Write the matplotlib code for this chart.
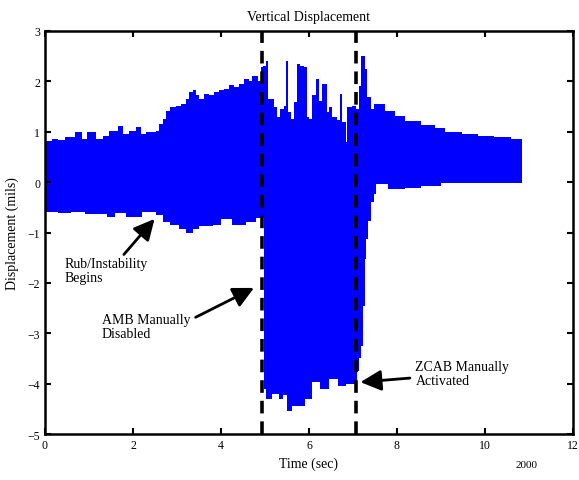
import numpy as np
import matplotlib
matplotlib.use('Agg')
import matplotlib.pyplot as plt

plt.rcParams['font.family'] = ['Liberation Serif', 'DejaVu Serif']

# upper envelope of the vertical displacement signal (time in sec, mils)
t_up = [0.00, 0.15, 0.30, 0.45, 0.68, 0.83, 0.96, 1.17, 1.32, 1.46, 1.66, 1.77,
        1.92, 2.07, 2.19, 2.30, 2.53, 2.60, 2.68, 2.75, 2.83, 2.98, 3.09, 3.21,
        3.28, 3.36, 3.43, 3.51, 3.62, 3.73, 3.85, 3.96, 4.07, 4.19, 4.30, 4.41,
        4.52, 4.64, 4.71, 4.83, 4.90, 4.96, 5.02, 5.07, 5.20, 5.27, 5.35, 5.43,
        5.47, 5.52, 5.60, 5.66, 5.73, 5.80, 5.88, 5.95, 6.00, 6.07, 6.15, 6.22,
        6.30, 6.40, 6.46, 6.52, 6.63, 6.70, 6.76, 6.83, 6.87, 6.97, 7.06, 7.13,
        7.19, 7.27, 7.31, 7.40, 7.47, 7.53, 7.73, 7.96, 8.19, 8.55, 8.87, 9.10,
        9.47, 9.84, 10.20, 10.60, 10.84]
v_up = [0.82, 0.86, 0.84, 0.90, 0.99, 0.86, 0.99, 0.86, 0.92, 1.02, 1.12, 0.96,
        1.02, 1.09, 0.96, 0.99, 1.02, 1.15, 1.25, 1.42, 1.49, 1.52, 1.55, 1.65,
        1.78, 1.82, 1.72, 1.65, 1.75, 1.72, 1.78, 1.82, 1.85, 1.92, 1.88, 1.95,
        2.05, 2.00, 2.11, 2.01, 2.28, 2.30, 2.40, 1.65, 1.49, 1.29, 1.45, 1.52,
        2.40, 1.39, 1.25, 1.60, 2.35, 2.30, 2.28, 1.30, 1.25, 1.72, 2.05, 1.62,
        1.95, 1.39, 1.50, 1.30, 1.23, 1.75, 1.20, 0.80, 1.50, 1.52, 1.45, 1.91,
        2.50, 2.25, 1.69, 1.45, 1.55, 1.56, 1.42, 1.32, 1.22, 1.14, 1.08, 1.00,
        0.96, 0.92, 0.90, 0.86, 0.86]

# lower envelope
t_lo = [0.00, 0.30, 0.60, 0.90, 1.40, 1.60, 1.85, 2.20, 2.53, 2.68, 2.83, 3.05,
        3.21, 3.36, 3.51, 3.81, 4.00, 4.26, 4.56, 4.80, 4.93, 4.98, 5.02, 5.17,
        5.32, 5.40, 5.50, 5.62, 5.77, 5.92, 6.07, 6.25, 6.45, 6.65, 6.83, 7.00,
        7.08, 7.13, 7.19, 7.23, 7.27, 7.29, 7.35, 7.40, 7.47, 7.53, 7.80, 8.19,
        8.55, 9.00, 10.84]
v_lo = [-0.60, -0.62, -0.60, -0.63, -0.70, -0.62, -0.70, -0.60, -0.65, -0.80, -0.86, -0.93,
        -1.00, -0.93, -0.88, -0.86, -0.73, -0.86, -0.80, -0.72, -0.70, -4.10, -4.30, -4.20,
        -4.30, -4.23, -4.54, -4.45, -4.44, -4.30, -3.97, -4.10, -3.90, -4.05, -4.00, -4.00,
        -3.75, -3.50, -3.25, -2.45, -1.52, -1.13, -0.77, -0.40, -0.23, -0.04, -0.13, -0.12,
        -0.07, -0.02, -0.02]

events = [4.93, 7.06]

fig = plt.figure(figsize=(5.79, 4.81), dpi=100)
ax = fig.add_axes([0.0777, 0.0956, 0.9119, 0.8379])

# merge envelopes on a common time grid (step style, no interpolation of values)
t_all = np.union1d(t_up, t_lo)
iu = np.searchsorted(t_up, t_all, side='right') - 1
il = np.searchsorted(t_lo, t_all, side='right') - 1
up = np.array(v_up)[iu]
lo = np.array(v_lo)[il]
ax.fill_between(t_all, lo, up, step='post', color='#0000ff', linewidth=0)

for te in events:
    ax.axvline(te, color='black', linestyle=(0, (3.5, 2.2)), linewidth=2.6, zorder=5)

ax.set_xlim(0, 12)
ax.set_ylim(-5, 3)
ax.set_xticks([0, 2, 4, 6, 8, 10, 12])
ax.set_yticks([3, 2, 1, 0, -1, -2, -3, -4, -5])
ax.tick_params(direction='in', top=True, right=True, length=4, width=1.5,
               labelsize=8.5)
for tk in ax.yaxis.get_major_ticks():
    tk.tick1line.set_color('blue')
for sp in ax.spines.values():
    sp.set_linewidth(1.8)

ax.set_title('Vertical Displacement', fontsize=10, pad=8)
ax.set_xlabel('Time (sec)', fontsize=10)
ax.set_ylabel('Displacement (mils)', fontsize=10, labelpad=6)

kw = dict(fontsize=10, ha='left', va='center', linespacing=1.1)
arr = dict(arrowstyle='-|>,head_width=0.45,head_length=0.9', color='black',
           lw=2, mutation_scale=14)
ax.annotate('Rub/Instability\nBegins', xy=(2.49, -0.73), xytext=(0.45, -1.76),
            arrowprops=dict(arr, shrinkA=0, shrinkB=0, relpos=(0.68, 1.0)), **kw)
ax.annotate('AMB Manually\nDisabled', xy=(4.75, -2.1), xytext=(1.29, -2.87),
            arrowprops=dict(arr, shrinkA=2, shrinkB=0, relpos=(1.0, 0.75)), **kw)
ax.annotate('ZCAB Manually\nActivated', xy=(7.17, -3.97), xytext=(8.42, -3.8),
            arrowprops=dict(arr, shrinkA=2, shrinkB=0, relpos=(0.0, 0.35)), **kw)

fig.text(0.89, 0.033, '2000', fontsize=8, ha='left', va='center')

fig.savefig('out.png', dpi=100)
